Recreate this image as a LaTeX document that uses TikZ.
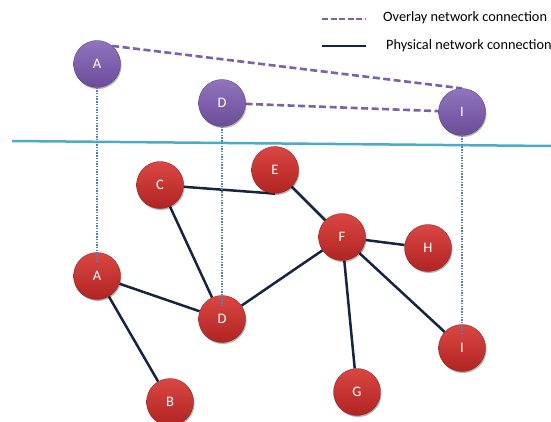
\documentclass[tikz,border=0pt]{standalone}
\usepackage{fontspec}
\setmainfont{Carlito}
\usetikzlibrary{shadows}
\pgfdeclarelayer{bg}
\pgfsetlayers{bg,main}
\definecolor{redtop}{HTML}{DA4743}
\definecolor{redbot}{HTML}{B02422}
\definecolor{purtop}{HTML}{9174BE}
\definecolor{purbot}{HTML}{6A4C98}
\definecolor{navy}{HTML}{17243D}
\definecolor{ovl}{HTML}{7862A8}
\definecolor{dotblue}{HTML}{4F81BD}
\definecolor{cyanline}{HTML}{4BACC6}
\begin{document}
\begin{tikzpicture}[x=1pt,y=-1pt,
  ball/.style={circle, minimum size=47pt, inner sep=0pt, text=white,
    font=\fontsize{14.5}{16}\selectfont,
    drop shadow={shadow xshift=1pt, shadow yshift=-1.5pt, opacity=0.3, fill=black}},
  rednode/.style={ball, top color=redtop, bottom color=redbot, draw=redbot!80!black, line width=0.3pt},
  purnode/.style={ball, top color=purtop, bottom color=purbot, draw=purbot!80!black, line width=0.3pt},
  phys/.style={draw=navy, line width=2.5pt},
  overlay/.style={draw=ovl, line width=2.6pt, dash pattern=on 7pt off 3.5pt},
  vert/.style={draw=dotblue, line width=2.2pt, dash pattern=on 1.4pt off 1.3pt},
  legendtext/.style={font=\fontsize{14.3}{16}\selectfont, anchor=west, inner sep=0pt}]
\begin{pgfonlayer}{bg}
\fill[white] (0,0) rectangle (551,422);
\end{pgfonlayer}
\useasboundingbox (0,0) rectangle (551,422);

% cyan separator
\coordinate (sepL) at (12,141);
\coordinate (sepR) at (551,146);
\draw[cyanline, line width=2.5pt] (sepL) -- (sepR);

% legend
\coordinate (l1a) at (322,19);
\coordinate (l1b) at (366,19);
\coordinate (l2a) at (322,46);
\coordinate (l2b) at (366,46);
\draw[overlay, dash pattern=on 6pt off 2.5pt] (l1a) -- (l1b);
\draw[phys] (l2a) -- (l2b);
\node[legendtext] (t1) at (383,18) {Overlay network connection};
\node[legendtext] (t2) at (386,46) {Physical network connection};

% physical nodes
\node[rednode] (C) at (160,185) {C};
\node[rednode] (E) at (275,170) {E};
\node[rednode] (F) at (342,237) {F};
\node[rednode] (H) at (428,248) {H};
\node[rednode] (A) at (97,276) {A};
\node[rednode] (D) at (222,319) {D};
\node[rednode] (I) at (462,348) {I};
\node[rednode] (G) at (357,392) {G};
\node[rednode] (B) at (170,402) {B};

% overlay nodes
\node[purnode] (pA) at (97,64) {A};
\node[purnode] (pD) at (222,103) {D};
\node[purnode] (pI) at (462,112) {I};

% edges behind nodes
\begin{pgfonlayer}{bg}
\draw[phys] (C) -- (E.south);
\draw[phys] (C) -- (D);
\draw[phys] (E) -- (F);
\draw[phys] (F) -- (H);
\draw[phys] (F) -- (D);
\draw[phys] (F) -- (G);
\draw[phys] (F) -- (I);
\draw[phys] (A) -- (D);
\draw[phys] (A) -- (B);
\draw[overlay] (pA.50) -- (pI.north);
\draw[overlay] (pD) -- (pI);
\end{pgfonlayer}

% vertical dotted mapping lines
\draw[vert] (pA.south) -- ([yshift=-10pt]A.north);
\draw[vert] (pD.south) -- ([yshift=-10pt]D.north);
\draw[vert] (pI.south) -- ([yshift=-10pt]I.north);
\end{tikzpicture}
\end{document}
